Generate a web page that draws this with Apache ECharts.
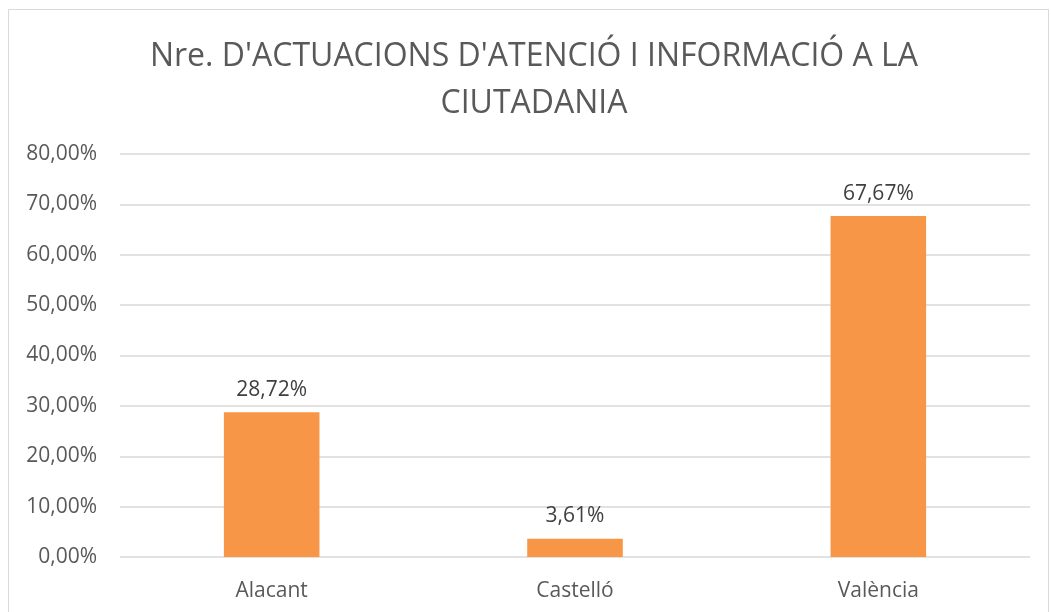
<!DOCTYPE html>
<html>
<head>
<meta charset="utf-8">
<script src="https://cdn.jsdelivr.net/npm/echarts@6/dist/echarts.min.js"></script>
<style>
  html, body { margin: 0; padding: 0; background: #fff; }
  #chart { width: 1051px; height: 612px; }
</style>
</head>
<body>
<div id="chart"></div>
<script>
// dades
var categories = ['Alacant', 'Castelló', 'València'];
var values = [28.72, 3.61, 67.67];
var yTicks = [0, 10, 20, 30, 40, 50, 60, 70, 80];

function pct(v) {
  return v.toFixed(2).replace('.', ',') + '%';
}

var myChart = echarts.init(document.getElementById('chart'));

var option = {
  backgroundColor: '#ffffff',
  animation: false,
  textStyle: { fontFamily: 'Open Sans' },
  // títol (centrat sobre la zona del gràfic, no de la finestra)
  graphic: [{
    type: 'rect',
    shape: { x: 8.5, y: 9.5, width: 1040, height: 620 },
    style: { fill: 'none', stroke: '#d9d9d9', lineWidth: 1 },
    silent: true
  }, {
    type: 'text',
    x: 534,
    y: 33,
    silent: true,
    style: {
      text: "Nre. D'ACTUACIONS D'ATENCIÓ I INFORMACIÓ A LA\nCIUTADANIA",
      align: 'center',
      verticalAlign: 'top',
      fill: '#595959',
      fontSize: 32,
      fontFamily: 'Open Sans',
      lineHeight: 47
    }
  }],
  grid: {
    left: 120,
    right: 21,
    top: 154,
    bottom: 55
  },
  xAxis: {
    type: 'category',
    data: categories,
    axisLine: { show: false },
    axisTick: { show: false },
    axisLabel: {
      color: '#595959',
      fontSize: 21,
      margin: 24
    }
  },
  yAxis: {
    type: 'value',
    min: yTicks[0],
    max: yTicks[yTicks.length - 1],
    interval: 10,
    axisLine: { show: false },
    axisTick: { show: false },
    splitLine: { lineStyle: { color: '#d9d9d9', width: 1.5 } },
    axisLabel: {
      color: '#595959',
      fontSize: 21,
      margin: 23,
      formatter: function (v) { return pct(v); }
    }
  },
  series: [{
    type: 'bar',
    data: values,
    barWidth: '31.5%',
    itemStyle: { color: '#f79646' },
    label: {
      show: true,
      position: 'top',
      distance: 12,
      color: '#404040',
      fontSize: 21,
      formatter: function (p) { return pct(p.value); }
    }
  }]
};

myChart.setOption(option);
</script>
</body>
</html>
